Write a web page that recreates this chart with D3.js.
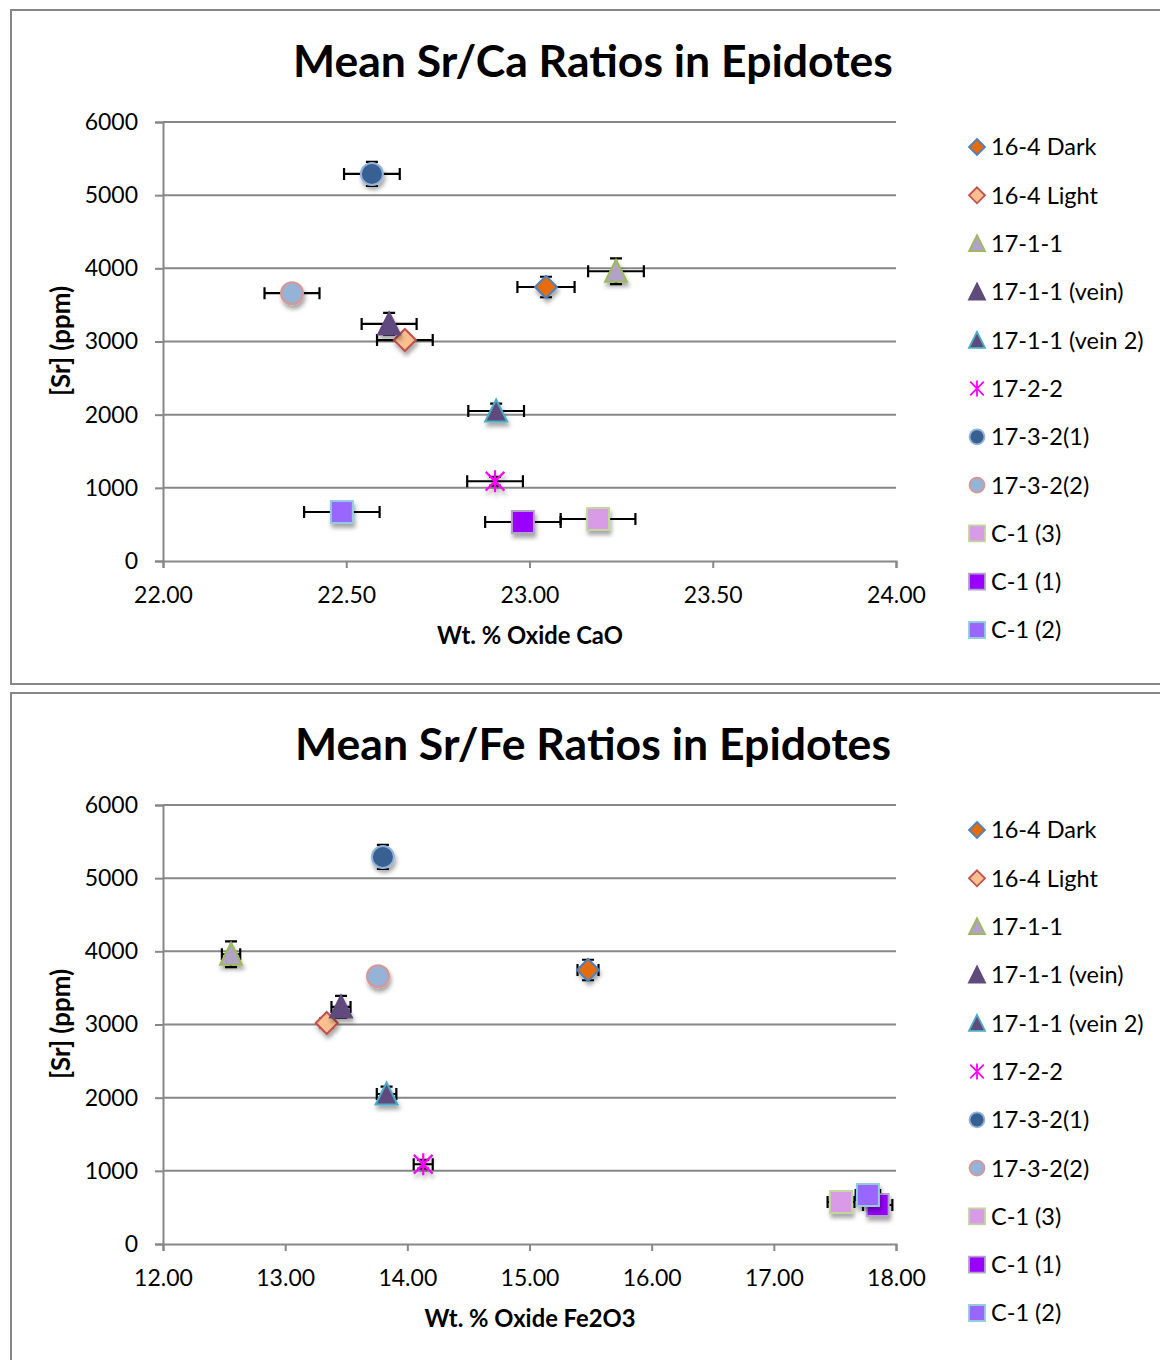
<!DOCTYPE html>
<html>
<head>
<meta charset="utf-8">
<script src="https://cdn.jsdelivr.net/npm/d3@7"></script>
<style>
  body { margin: 0; background: #fff; }
  svg { display: block; font-family: Lato, "Open Sans", sans-serif; }
</style>
</head>
<body>
<svg id="chart" width="1160" height="1360"></svg>
<script>
// sample names, shared by both charts
var names = ['16-4 Dark', '16-4 Light', '17-1-1', '17-1-1 (vein)', '17-1-1 (vein 2)', '17-2-2',
  '17-3-2(1)', '17-3-2(2)', 'C-1 (3)', 'C-1 (1)', 'C-1 (2)'];
var shapes = ['diamond', 'diamond', 'triangle', 'triangle', 'triangle', 'star',
  'circle', 'circle', 'square', 'square', 'square'];
var fills = ['#E46C0A', '#FAC090', '#B3A2C7', '#604A7B', '#604A7B', 'none',
  '#376092', '#95B3D7', '#D99BE8', '#9900FF', '#9966FF'];
var strokes = ['#4F81BD', '#C0504D', '#9BBB59', '#604A7B', '#4BACC6', '#FF00FF',
  '#95B3D7', '#D99694', '#C3D69B', '#B3A2C7', '#93CDDD'];

// [Sr] ppm with error
var sr = [3745, 3020, 3960, 3240, 2050, 1090, 5290, 3660, 574, 533, 670];
var srErr = [140, 60, 175, 150, 100, 60, 165, 40, 40, 40, 40];

// wt. % CaO with error
var cao = [23.045, 22.66, 23.236, 22.617, 22.909, 22.906, 22.570, 22.352, 23.187, 22.982, 22.488];
var caoErr = [0.078, 0.076, 0.076, 0.075, 0.076, 0.076, 0.076, 0.075, 0.102, 0.103, 0.103];

// wt. % Fe2O3 with error
var fe = [15.479, 13.34, 12.557, 13.457, 13.83, 14.13, 13.80, 13.76, 17.55, 17.85, 17.77];
var feErr = [0.086, 0.05, 0.075, 0.078, 0.08, 0.078, 0.07, 0.05, 0.11, 0.12, 0.1];

var yTicks = [0, 1000, 2000, 3000, 4000, 5000, 6000];
var caTicks = [22, 22.5, 23, 23.5, 24];
var feTicks = [12, 13, 14, 15, 16, 17, 18];

var svg = d3.select('#chart');
var grid = '#878787';

var defs = svg.append('defs');
defs.append('filter').attr('id', 'shadow')
  .attr('x', '-50%').attr('y', '-50%').attr('width', '200%').attr('height', '200%')
  .append('feDropShadow')
  .attr('dx', 1.5).attr('dy', 4).attr('stdDeviation', 2)
  .attr('flood-color', '#000').attr('flood-opacity', 0.35);

function markerPath(shape, s) {
  // s = half size
  if (shape == 'diamond') return 'M0,' + (-s) + 'L' + s + ',0L0,' + s + 'L' + (-s) + ',0Z';
  if (shape == 'triangle') return 'M0,' + (-s * 1.05) + 'L' + s + ',' + (s * 0.95) + 'L' + (-s) + ',' + (s * 0.95) + 'Z';
  if (shape == 'square') return 'M' + (-s) + ',' + (-s) + 'h' + 2 * s + 'v' + 2 * s + 'h' + (-2 * s) + 'Z';
  if (shape == 'circle') return d3.arc()({innerRadius: 0, outerRadius: s, startAngle: 0, endAngle: 2 * Math.PI}) + 'Z';
  // asterisk
  var d = s * 0.85;
  return 'M0,' + (-s) + 'V' + s + 'M' + (-d) + ',' + (-d) + 'L' + d + ',' + d + 'M' + d + ',' + (-d) + 'L' + (-d) + ',' + d;
}

function drawMarker(g, i, s, shadow) {
  var p = g.append('path')
    .attr('d', markerPath(shapes[i], s))
    .attr('fill', fills[i])
    .attr('stroke', strokes[i])
    .attr('stroke-width', shapes[i] == 'star' ? 2.2 : 2);
  if (shadow) p.attr('filter', 'url(#shadow)');
  return p;
}

function fitText(t, width, size) {
  var len = t.node().getComputedTextLength();
  t.attr('font-size', size * width / len);
}

function drawChart(off, title, titleW, xLabel, xLabelW, xs, xErr, xDomain, xTicks) {
  var g = svg.append('g').attr('transform', 'translate(0,' + off + ')');

  g.append('rect').attr('x', 11).attr('y', 10).attr('width', 1170).attr('height', 674 + (off ? 40 : 0))
    .attr('fill', '#fff').attr('stroke', grid).attr('stroke-width', 2);

  var x = d3.scaleLinear().domain(xDomain).range([163, 896]);
  var y = d3.scaleLinear().domain([0, 6000]).range([561, 122]);

  var t = g.append('text').attr('x', 593).attr('y', 77).attr('text-anchor', 'middle')
    .attr('font-weight', 'bold').attr('font-size', 40).text(title);
  fitText(t, titleW, 40);

  // gridlines
  g.append('g').selectAll('line').data(yTicks.slice(1)).join('line')
    .attr('x1', 163).attr('x2', 896)
    .attr('y1', function (d) { return y(d); }).attr('y2', function (d) { return y(d); })
    .attr('stroke', grid).attr('stroke-width', 2);

  var ya = g.append('g').attr('transform', 'translate(163,0)')
    .call(d3.axisLeft(y).tickValues(yTicks).tickSize(8).tickPadding(17).tickFormat(d3.format('d')));
  var xa = g.append('g').attr('transform', 'translate(0,561)')
    .call(d3.axisBottom(x).tickValues(xTicks).tickSize(7).tickPadding(19).tickFormat(d3.format('.2f')));
  [ya, xa].forEach(function (a) {
    a.select('.domain').attr('stroke', grid).attr('stroke-width', 2);
    a.selectAll('.tick line').attr('stroke', grid).attr('stroke-width', 2);
    a.selectAll('text').attr('font-size', 23).attr('fill', '#000').attr('font-family', 'Lato');
  });

  var xl = g.append('text').attr('x', 530).attr('y', 644).attr('text-anchor', 'middle')
    .attr('font-weight', 'bold').attr('font-size', 22).text(xLabel);
  fitText(xl, xLabelW, 22);
  var yl = g.append('text').attr('transform', 'translate(70,341) rotate(-90)').attr('text-anchor', 'middle')
    .attr('font-weight', 'bold').attr('font-size', 22).text('[Sr] (ppm)');
  fitText(yl, 110, 22);

  // error bars
  var eb = g.append('g').attr('stroke', '#000').attr('stroke-width', 2.2).attr('fill', 'none');
  names.forEach(function (n, i) {
    var cx = x(xs[i]), cy = y(sr[i]);
    var x0 = x(xs[i] - xErr[i]), x1 = x(xs[i] + xErr[i]);
    var y0 = y(sr[i] - srErr[i]), y1 = y(sr[i] + srErr[i]);
    eb.append('path').attr('d',
      'M' + x0 + ',' + cy + 'H' + x1 +
      'M' + x0 + ',' + (cy - 6) + 'V' + (cy + 6) +
      'M' + x1 + ',' + (cy - 6) + 'V' + (cy + 6) +
      'M' + cx + ',' + y0 + 'V' + y1 +
      'M' + (cx - 6) + ',' + y0 + 'H' + (cx + 6) +
      'M' + (cx - 6) + ',' + y1 + 'H' + (cx + 6));
  });

  // markers
  names.forEach(function (n, i) {
    var m = g.append('g').attr('transform', 'translate(' + x(xs[i]) + ',' + y(sr[i]) + ')');
    drawMarker(m, i, 11, true);
  });

  // legend
  var lg = g.append('g');
  names.forEach(function (n, i) {
    var ly = 147 + i * 48.3;
    var m = lg.append('g').attr('transform', 'translate(977,' + ly + ')');
    drawMarker(m, i, shapes[i] == 'circle' ? 7.5 : 8, false).attr('stroke-width', 1.8);
    lg.append('text').attr('x', 991).attr('y', ly).attr('dy', '0.36em')
      .attr('font-size', 23.5).text(n);
  });
}

drawChart(0, 'Mean Sr/Ca Ratios in Epidotes', 600, 'Wt. % Oxide CaO', 186, cao, caoErr, [22, 24], caTicks);
drawChart(683, 'Mean Sr/Fe Ratios in Epidotes', 596, 'Wt. % Oxide Fe2O3', 211, fe, feErr, [12, 18], feTicks);
</script>
</body>
</html>
